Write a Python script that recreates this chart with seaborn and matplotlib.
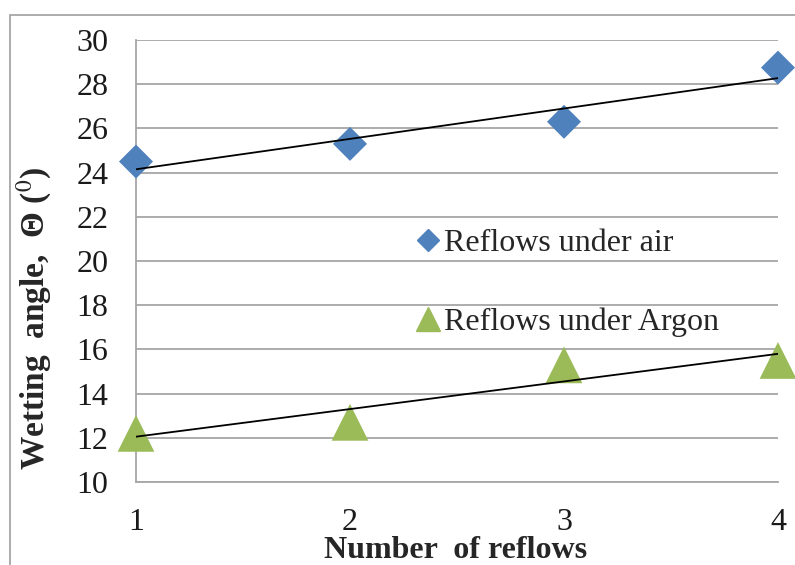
import numpy as np
import pandas as pd
import matplotlib
matplotlib.use("Agg")
import matplotlib.pyplot as plt
from matplotlib.lines import Line2D
from matplotlib.patches import Rectangle
import seaborn as sns

# datos
reflows = [1, 2, 3, 4]
angle_air = [24.5, 25.3, 26.3, 28.75]
angle_argon = [12.2, 12.7, 15.3, 15.5]
label_air = "Reflows under air"
label_argon = "Reflows under Argon"
y_ticks = [10, 12, 14, 16, 18, 20, 22, 24, 26, 28, 30]

sns.set_style("white")
plt.rcParams['font.family'] = ['Liberation Serif', 'DejaVu Serif']
plt.rcParams['mathtext.fontset'] = 'stix'

blue = "#4F81BD"
green = "#9BBB59"
grid_gray = "#A6A6A6"
fs = 23

df = pd.DataFrame({"reflows": reflows, "air": angle_air, "argon": angle_argon})

fig = plt.figure(figsize=(7.95, 5.65), dpi=100)
ax = fig.add_axes([136 / 795, 1 - 482 / 565, (778 - 136) / 795, (482 - 40) / 565])

# lineas de tendencia
sns.regplot(data=df, x="reflows", y="air", scatter=False, ci=None, ax=ax,
            color="black", line_kws={"lw": 1.3, "zorder": 4})
sns.regplot(data=df, x="reflows", y="argon", scatter=False, ci=None, ax=ax,
            color="black", line_kws={"lw": 1.3, "zorder": 4})

# puntos
sns.scatterplot(data=df, x="reflows", y="air", marker="D", s=300, color=blue,
                edgecolor="none", ax=ax, clip_on=False, zorder=3)
sns.scatterplot(data=df, x="reflows", y="argon", marker="^", s=700, color=green,
                edgecolor="none", ax=ax, clip_on=False, zorder=3)

ax.set_xlim(1, 4)
ax.set_ylim(10, 30)
ax.set_xticks(reflows)
ax.set_yticks(y_ticks)
ax.yaxis.grid(True, color=grid_gray, lw=1.3)
ax.set_axisbelow(True)
for side in ["top", "right"]:
    ax.spines[side].set_visible(False)
for side in ["left", "bottom"]:
    ax.spines[side].set_color(grid_gray)
    ax.spines[side].set_linewidth(1.3)
ax.tick_params(axis="both", length=0, labelsize=fs, colors="#1a1a1a")
ax.tick_params(axis="y", pad=20)
ax.tick_params(axis="x", pad=19)

ax.set_xlabel("Number  of reflows", fontsize=fs, fontweight="bold")
ax.set_ylabel("Wetting  angle,  \u0398 ($^0$)", fontsize=fs + 1, fontweight="bold")
ax.xaxis.set_label_coords(0.497, -0.122)
ax.yaxis.set_label_coords(-0.128, 0.37)

handles = [
    Line2D([], [], marker="D", color=blue, lw=0, markersize=11, label=label_air),
    Line2D([], [], marker="^", color=green, lw=0, markersize=17, label=label_argon),
]
ax.legend(handles=handles, loc="center left", bbox_to_anchor=(0.41, 0.45),
          frameon=False, fontsize=fs, handletextpad=0.0, labelspacing=1.55,
          handlelength=1.0, borderaxespad=0)

# marco exterior
fig.patches.append(Rectangle((10 / 795, -0.05), 1.0, 1 - 15 / 565 + 0.05,
                             transform=fig.transFigure, fill=False,
                             edgecolor=grid_gray, lw=1.3))

fig.savefig("out.png", dpi=100)
